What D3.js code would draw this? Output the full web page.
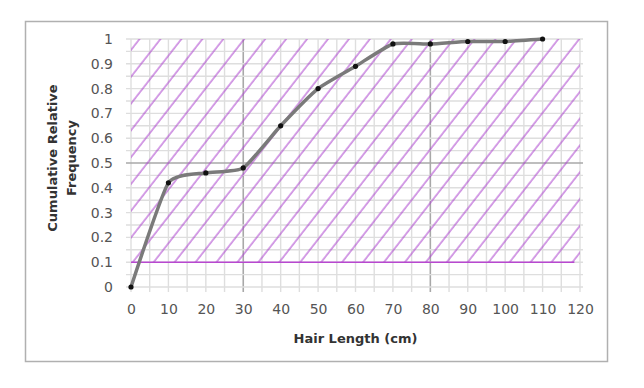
<!DOCTYPE html>
<html><head><meta charset="utf-8">
<script src="https://cdn.jsdelivr.net/npm/d3@7"></script>
<style>body{margin:0;background:#fff;} svg{display:block;}</style>
</head><body>
<svg id="c" width="644" height="388"></svg>
<script>
const hairLength = [0,10,20,30,40,50,60,70,80,90,100,110];
const cumFreq = [0,0.42,0.46,0.48,0.65,0.80,0.89,0.98,0.98,0.99,0.99,1.0];
const xTicks = [0,10,20,30,40,50,60,70,80,90,100,110,120];
const yTicks = [0,0.1,0.2,0.3,0.4,0.5,0.6,0.7,0.8,0.9,1];
const yTickLabels = ["0","0.1","0.2","0.3","0.4","0.5","0.6","0.7","0.8","0.9","1"];
const shadedRange = [0.1, 1]; // shaded y band
const darkX = [30, 80];
const darkY = [0.5];

const svg = d3.select("#c");
const W=644,H=388;
const m={l:131,r:64,t:39,b:101};
const x=d3.scaleLinear().domain([0,120]).range([m.l,W-m.r]);
const y=d3.scaleLinear().domain([0,1]).range([H-m.b,m.t]);
const font="'DejaVu Sans', sans-serif";

svg.append("rect").attr("x",25.5).attr("y",21.5).attr("width",582).attr("height",340)
  .attr("fill","#fff").attr("stroke","#b0b0b0").attr("stroke-width",1.5);

// hatch pattern
const defs=svg.append("defs");
const pat=defs.append("pattern").attr("id","hatch").attr("patternUnits","userSpaceOnUse")
  .attr("width",16.5).attr("height",20).attr("patternTransform","rotate(38)");
pat.append("line").attr("x1",2).attr("x2",2).attr("y1",0).attr("y2",20)
  .attr("stroke","#a93fcc").attr("stroke-width",1);

// grid
const g=svg.append("g");
const minorX=d3.range(0,120.01,5), minorY=d3.range(0,1.001,0.05);
g.selectAll(".vx").data(minorX).enter().append("line")
  .attr("x1",d=>x(d)).attr("x2",d=>x(d)).attr("y1",y(1)).attr("y2",y(0)+5)
  .attr("stroke",d=>darkX.includes(d)?"#a8a8a8":"#dedede").attr("stroke-width",d=>darkX.includes(d)?1.6:1.4);
g.selectAll(".hy").data(minorY).enter().append("line")
  .attr("y1",d=>y(d)).attr("y2",d=>y(d)).attr("x1",x(0)-5).attr("x2",x(120)+3)
  .attr("stroke",d=>darkY.some(v=>Math.abs(v-d)<1e-6)?"#a8a8a8":"#dedede")
  .attr("stroke-width",d=>darkY.some(v=>Math.abs(v-d)<1e-6)?1.6:1.4);

// shaded band
svg.append("rect").attr("x",x(0)).attr("y",y(shadedRange[1]))
  .attr("width",x(120)-x(0)).attr("height",y(shadedRange[0])-y(shadedRange[1]))
  .attr("fill","url(#hatch)");
svg.append("line").attr("x1",x(0)).attr("x2",x(118.5)).attr("y1",y(shadedRange[0])).attr("y2",y(shadedRange[0]))
  .attr("stroke","#b848d0").attr("stroke-width",1.5);

// line
const pts=hairLength.map((d,i)=>[d,cumFreq[i]]);
svg.append("path").datum(pts)
  .attr("d",d3.line().x(d=>x(d[0])).y(d=>y(d[1])).curve(d3.curveCardinal.tension(0.5)))
  .attr("fill","none").attr("stroke","#7a7a7a").attr("stroke-width",3.5).attr("stroke-linejoin","round");
svg.selectAll(".pt").data(pts).enter().append("circle")
  .attr("cx",d=>x(d[0])).attr("cy",d=>y(d[1])).attr("r",2.6).attr("fill","#111");

// axes
const xa=svg.append("g").attr("transform",`translate(0,${y(0)})`)
  .call(d3.axisBottom(x).tickValues(xTicks).tickSize(0).tickPadding(17).tickFormat(d3.format("d")));
xa.select(".domain").remove();
xa.selectAll("text").attr("font-family",font).attr("font-size",14).attr("fill","#555");
const ya=svg.append("g").attr("transform",`translate(${x(0)},0)`)
  .call(d3.axisLeft(y).tickValues(yTicks).tickSize(0).tickPadding(18).tickFormat((d,i)=>yTickLabels[i]));
ya.select(".domain").remove();
ya.selectAll("text").attr("font-family",font).attr("font-size",14).attr("fill","#555");

svg.append("text").attr("x",(x(0)+x(120))/2).attr("y",343).attr("text-anchor","middle")
  .attr("font-family",font).attr("font-size",13).attr("font-weight","bold").attr("fill","#333")
  .text("Hair Length (cm)");
const yt=svg.append("text").attr("transform","translate(57,158) rotate(-90)").attr("text-anchor","middle")
  .attr("font-family",font).attr("font-size",13).attr("font-weight","bold").attr("fill","#333");
yt.append("tspan").attr("x",0).attr("dy",0).text("Cumulative Relative");
yt.append("tspan").attr("x",0).attr("dy",19).text("Frequency");
</script>
</body></html>
